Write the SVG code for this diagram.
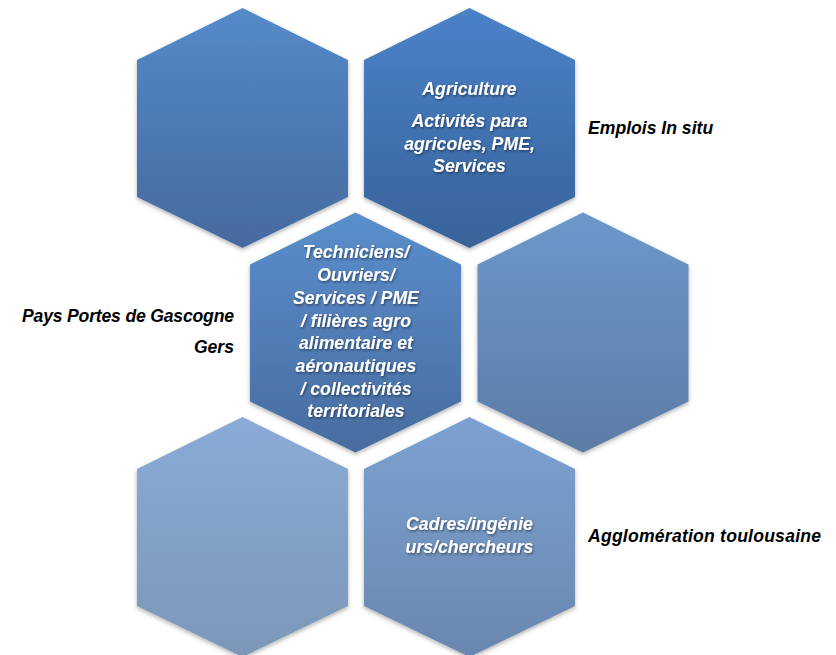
<svg xmlns="http://www.w3.org/2000/svg" xmlns:xlink="http://www.w3.org/1999/xlink" width="836" height="655" viewBox="0 0 836 655">
  <defs>
    <!-- pointy-top hexagon, 211 x 240, centred on the origin -->
    <polygon id="hex" points="0,-120 105.5,-68 105.5,69 0,120 -105.5,69 -105.5,-68"/>
    <linearGradient id="gA" x1="0" y1="0" x2="0" y2="1">
      <stop offset="0" stop-color="#548ac9"/>
      <stop offset="1" stop-color="#456a9e"/>
    </linearGradient>
    <linearGradient id="gB" x1="0" y1="0" x2="0" y2="1">
      <stop offset="0" stop-color="#4a82c8"/>
      <stop offset="1" stop-color="#39629a"/>
    </linearGradient>
    <linearGradient id="gC" x1="0" y1="0" x2="0" y2="1">
      <stop offset="0" stop-color="#5a8ecd"/>
      <stop offset="1" stop-color="#486c9f"/>
    </linearGradient>
    <linearGradient id="gD" x1="0" y1="0" x2="0" y2="1">
      <stop offset="0" stop-color="#6b98ca"/>
      <stop offset="1" stop-color="#5c7ca6"/>
    </linearGradient>
    <linearGradient id="gE" x1="0" y1="0" x2="0" y2="1">
      <stop offset="0" stop-color="#89abd6"/>
      <stop offset="1" stop-color="#7c97b8"/>
    </linearGradient>
    <linearGradient id="gF" x1="0" y1="0" x2="0" y2="1">
      <stop offset="0" stop-color="#7ba2d2"/>
      <stop offset="1" stop-color="#6a87ae"/>
    </linearGradient>
    <filter id="hexShadow" x="-10%" y="-10%" width="120%" height="120%">
      <feDropShadow dx="0" dy="2" stdDeviation="2" flood-color="#000" flood-opacity="0.3"/>
    </filter>
    <filter id="txtShadow" x="-10%" y="-10%" width="120%" height="130%">
      <feDropShadow dx="1" dy="1.5" stdDeviation="1" flood-color="#000" flood-opacity="0.45"/>
    </filter>
    <style>
      .hex { filter: url(#hexShadow); }
      .in { font-family: "Liberation Sans", Arial, sans-serif; font-size: 17.7px; font-weight: bold; font-style: italic; fill: #ffffff; text-anchor: middle; filter: url(#txtShadow); }
      .side { font-family: "Liberation Sans", Arial, sans-serif; font-size: 17.6px; font-weight: bold; font-style: italic; fill: #000000; }
    </style>
  </defs>

  <rect width="836" height="655" fill="#ffffff"/>

  <!-- no connectors in this figure -->
  <g id="connectors"/>

  <g id="hex-top-left">
    <use xlink:href="#hex" href="#hex" class="hex" x="242.5" y="128" fill="url(#gA)"/>
  </g>

  <g id="hex-top-right">
    <use xlink:href="#hex" href="#hex" class="hex" x="469.5" y="128" fill="url(#gB)"/>
    <text class="in" x="469.5" y="95">Agriculture</text>
    <text class="in" x="469.5" y="127">Activités para</text>
    <text class="in" x="469.5" y="150">agricoles, PME,</text>
    <text class="in" x="469.5" y="172">Services</text>
  </g>

  <g id="hex-middle-left">
    <use xlink:href="#hex" href="#hex" class="hex" x="355.5" y="332.5" fill="url(#gC)"/>
    <text class="in" x="356" y="258">Techniciens/</text>
    <text class="in" x="356" y="281">Ouvriers/</text>
    <text class="in" x="356" y="304">Services / PME</text>
    <text class="in" x="356" y="327">/ filières agro</text>
    <text class="in" x="356" y="349">alimentaire et</text>
    <text class="in" x="356" y="372">aéronautiques</text>
    <text class="in" x="356" y="395">/ collectivités</text>
    <text class="in" x="356" y="417">territoriales</text>
  </g>

  <g id="hex-middle-right">
    <use xlink:href="#hex" href="#hex" class="hex" x="583" y="332.5" fill="url(#gD)"/>
  </g>

  <g id="hex-bottom-left">
    <use xlink:href="#hex" href="#hex" class="hex" x="242.5" y="537" fill="url(#gE)"/>
  </g>

  <g id="hex-bottom-right">
    <use xlink:href="#hex" href="#hex" class="hex" x="469.5" y="537" fill="url(#gF)"/>
    <text class="in" x="469.5" y="530">Cadres/ingénie</text>
    <text class="in" x="469.5" y="553">urs/chercheurs</text>
  </g>

  <g id="labels">
    <text class="side" x="588" y="134">Emplois In situ</text>
    <text class="side" x="22" y="322" textLength="212" lengthAdjust="spacing">Pays Portes de Gascogne</text>
    <text class="side" x="234" y="353" text-anchor="end">Gers</text>
    <text class="side" x="588" y="542" textLength="233" lengthAdjust="spacing">Agglomération toulousaine</text>
  </g>
</svg>
